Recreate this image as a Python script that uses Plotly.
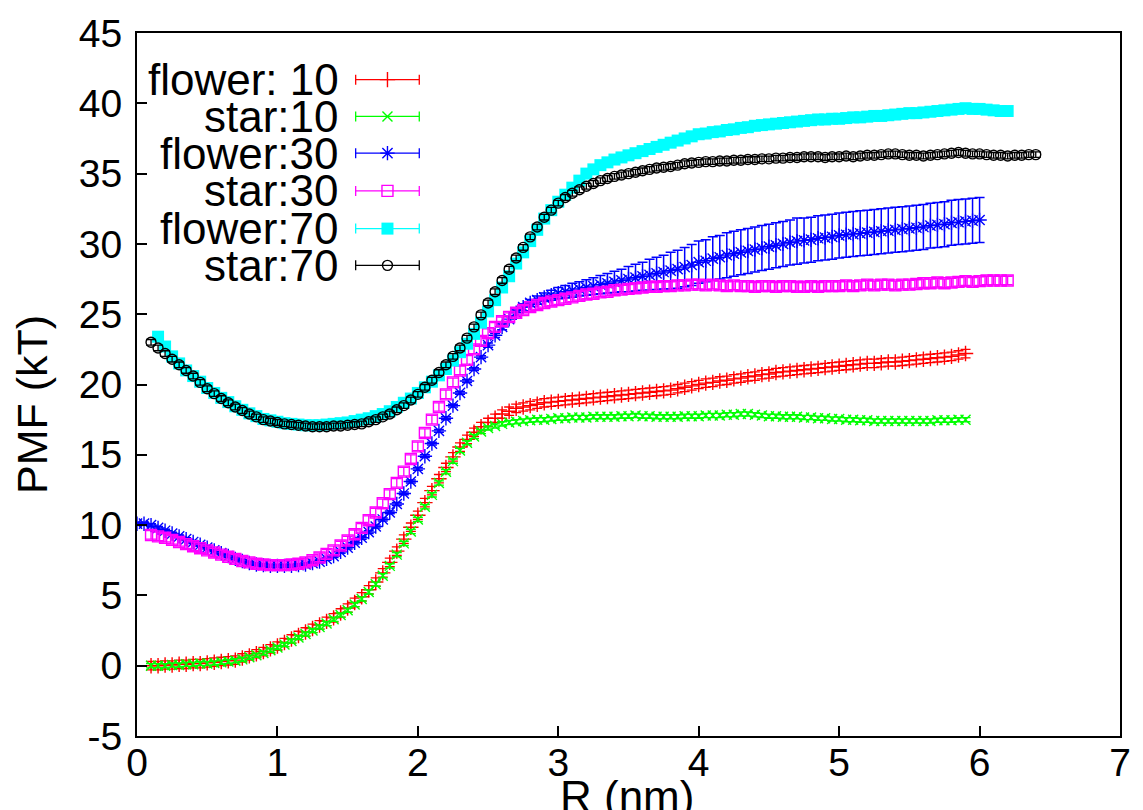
import numpy as np
import plotly.graph_objects as go

R_STEP = 0.05

# ---- series values (PMF in kT), sampled every R_STEP nm from the given start ----
FLOWER10_START = 0.10
FLOWER10 = [0.0, 0.0, 0.05, 0.05, 0.1, 0.1, 0.15, 0.15, 0.2, 0.25,
            0.3, 0.35, 0.4, 0.55, 0.7, 0.85, 1.0, 1.2, 1.4, 1.65,
            1.9, 2.15, 2.4, 2.65, 2.9, 3.15, 3.4, 3.75, 4.1, 4.5,
            4.9, 5.4, 5.95, 6.6, 7.35, 8.15, 9.0, 9.85, 10.7, 11.6,
            12.45, 13.3, 14.1, 14.85, 15.55, 16.1, 16.6, 17.0, 17.3, 17.6,
            17.9, 18.1, 18.3, 18.4, 18.5, 18.6, 18.7, 18.75, 18.8, 18.85,
            18.9, 18.95, 19.0, 19.05, 19.1, 19.15, 19.2, 19.25, 19.3, 19.35,
            19.4, 19.45, 19.5, 19.55, 19.6, 19.7, 19.8, 19.9, 20.0, 20.1,
            20.15, 20.25, 20.3, 20.4, 20.45, 20.55, 20.6, 20.7, 20.75, 20.85,
            20.9, 20.95, 21.0, 21.05, 21.1, 21.15, 21.2, 21.25, 21.3, 21.35,
            21.4, 21.45, 21.5, 21.5, 21.55, 21.6, 21.6, 21.65, 21.7, 21.75,
            21.8, 21.85, 21.9, 21.95, 22.0, 22.1, 22.2]

STAR10_START = 0.10
STAR10 = [0.0, 0.0, 0.0, 0.05, 0.05, 0.1, 0.1, 0.15, 0.15, 0.2,
          0.25, 0.3, 0.35, 0.45, 0.6, 0.75, 0.9, 1.1, 1.3, 1.5,
          1.75, 2.0, 2.25, 2.5, 2.75, 3.0, 3.3, 3.6, 3.95, 4.35,
          4.75, 5.25, 5.8, 6.4, 7.1, 7.9, 8.7, 9.55, 10.4, 11.3,
          12.15, 13.0, 13.8, 14.55, 15.3, 15.85, 16.3, 16.65, 16.9, 17.05,
          17.2, 17.3, 17.35, 17.4, 17.45, 17.5, 17.5, 17.55, 17.6, 17.6,
          17.65, 17.65, 17.65, 17.7, 17.7, 17.7, 17.7, 17.75, 17.75, 17.8,
          17.75, 17.75, 17.7, 17.7, 17.7, 17.7, 17.75, 17.75, 17.75, 17.8,
          17.8, 17.8, 17.85, 17.85, 17.9, 17.9, 17.85, 17.8, 17.75, 17.75,
          17.7, 17.7, 17.7, 17.65, 17.65, 17.6, 17.6, 17.55, 17.55, 17.5,
          17.5, 17.45, 17.45, 17.4, 17.4, 17.4, 17.4, 17.4, 17.4, 17.4,
          17.4, 17.4, 17.45, 17.45, 17.45, 17.5, 17.5]

FLOWER30_START = 0.00
FLOWER30 = [10.1, 10.1, 10.0, 9.8, 9.6, 9.4, 9.2, 9.0, 8.8, 8.6,
            8.4, 8.2, 8.0, 7.8, 7.6, 7.45, 7.3, 7.2, 7.15, 7.1,
            7.1, 7.1, 7.1, 7.15, 7.2, 7.3, 7.4, 7.6, 7.8, 8.1,
            8.4, 8.75, 9.1, 9.5, 9.9, 10.4, 10.9, 11.5, 12.25, 13.1,
            14.0, 14.9, 15.8, 16.7, 17.6, 18.5, 19.4, 20.25, 21.1, 21.95,
            22.8, 23.5, 24.1, 24.65, 25.1, 25.5, 25.8, 26.0, 26.2, 26.35,
            26.5, 26.6, 26.7, 26.8, 26.9, 27.0, 27.1, 27.2, 27.3, 27.4,
            27.5, 27.6, 27.7, 27.8, 27.9, 28.0, 28.1, 28.2, 28.35, 28.5,
            28.7, 28.8, 28.95, 29.05, 29.2, 29.3, 29.4, 29.5, 29.6, 29.7,
            29.8, 29.9, 30.0, 30.1, 30.2, 30.25, 30.3, 30.4, 30.45, 30.5,
            30.6, 30.65, 30.7, 30.75, 30.8, 30.85, 30.9, 30.95, 31.0, 31.05,
            31.1, 31.15, 31.2, 31.3, 31.35, 31.4, 31.5, 31.55, 31.6, 31.65,
            31.7]
FLOWER30_ERR = [0.1, 0.1, 0.1, 0.1, 0.1, 0.1, 0.1, 0.1, 0.1, 0.1,
                0.1, 0.1, 0.1, 0.1, 0.1, 0.1, 0.1, 0.1, 0.1, 0.1,
                0.1, 0.1, 0.1, 0.1, 0.1, 0.1, 0.1, 0.1, 0.1, 0.1,
                0.1, 0.1, 0.1, 0.1, 0.1, 0.1, 0.1, 0.1, 0.1, 0.1,
                0.1, 0.1, 0.1, 0.1, 0.1, 0.1, 0.1, 0.1, 0.1, 0.1,
                0.15, 0.15, 0.2, 0.2, 0.2, 0.25, 0.25, 0.3, 0.3, 0.35,
                0.4, 0.45, 0.5, 0.5, 0.55, 0.6, 0.65, 0.7, 0.75, 0.8,
                0.9, 0.95, 1.0, 1.1, 1.15, 1.2, 1.3, 1.35, 1.4, 1.45,
                1.5, 1.5, 1.55, 1.55, 1.6, 1.6, 1.6, 1.6, 1.6, 1.6,
                1.6, 1.6, 1.6, 1.6, 1.65, 1.6, 1.6, 1.6, 1.6, 1.6,
                1.6, 1.6, 1.6, 1.6, 1.6, 1.6, 1.6, 1.6, 1.6, 1.6,
                1.6, 1.6, 1.6, 1.6, 1.6, 1.6, 1.6, 1.6, 1.6, 1.6,
                1.6]

STAR30_START = 0.10
STAR30 = [9.3, 9.2, 9.1, 8.95, 8.8, 8.65, 8.5, 8.35, 8.2, 8.05,
          7.9, 7.75, 7.6, 7.45, 7.35, 7.25, 7.2, 7.15, 7.15, 7.15,
          7.2, 7.25, 7.35, 7.5, 7.7, 7.95, 8.2, 8.55, 8.9, 9.35,
          9.8, 10.35, 10.9, 11.55, 12.2, 13.0, 13.8, 14.7, 15.6, 16.55,
          17.5, 18.4, 19.3, 20.15, 21.0, 21.75, 22.5, 23.1, 23.65, 24.1,
          24.5, 24.8, 25.1, 25.3, 25.5, 25.65, 25.8, 25.9, 26.0, 26.1,
          26.2, 26.3, 26.4, 26.45, 26.55, 26.6, 26.7, 26.75, 26.8, 26.85,
          26.9, 26.95, 26.95, 27.0, 27.0, 27.05, 27.05, 27.1, 27.1, 27.05,
          27.1, 27.05, 27.0, 27.05, 27.0, 27.0, 26.95, 27.0, 27.0, 26.95,
          27.0, 27.0, 26.95, 26.95, 27.0, 26.95, 27.0, 27.0, 27.0, 27.05,
          27.0, 27.05, 27.1, 27.05, 27.1, 27.1, 27.05, 27.1, 27.1, 27.15,
          27.2, 27.2, 27.25, 27.2, 27.25, 27.3, 27.35, 27.3, 27.35, 27.4,
          27.4, 27.4, 27.4]

FLOWER70_START = 0.15
FLOWER70 = [23.4, 22.7, 22.0, 21.5, 21.0, 20.6, 20.2, 19.75, 19.4, 19.05,
            18.75, 18.45, 18.2, 17.95, 17.75, 17.55, 17.45, 17.35, 17.25, 17.2,
            17.15, 17.1, 17.1, 17.1, 17.15, 17.2, 17.25, 17.3, 17.4, 17.5,
            17.6, 17.75, 17.9, 18.1, 18.4, 18.7, 19.0, 19.4, 19.8, 20.2,
            20.65, 21.1, 21.7, 22.3, 22.9, 23.6, 24.4, 25.2, 26.0, 26.9,
            27.7, 28.6, 29.4, 30.2, 31.0, 31.8, 32.4, 33.0, 33.5, 34.0,
            34.5, 35.0, 35.3, 35.6, 35.8, 36.0, 36.15, 36.3, 36.45, 36.6,
            36.75, 36.9, 37.05, 37.2, 37.35, 37.5, 37.65, 37.8, 37.85, 37.95,
            38.0, 38.1, 38.15, 38.25, 38.3, 38.4, 38.45, 38.5, 38.55, 38.6,
            38.65, 38.7, 38.75, 38.8, 38.85, 38.85, 38.9, 38.9, 38.95, 39.0,
            39.0, 39.05, 39.1, 39.1, 39.15, 39.2, 39.25, 39.3, 39.3, 39.35,
            39.4, 39.45, 39.5, 39.55, 39.6, 39.65, 39.6, 39.6, 39.55, 39.5,
            39.45, 39.45]

STAR70_START = 0.10
STAR70 = [23.0, 22.6, 22.2, 21.8, 21.4, 21.0, 20.6, 20.15, 19.7, 19.35,
          19.0, 18.7, 18.4, 18.15, 17.9, 17.7, 17.5, 17.4, 17.3, 17.2,
          17.15, 17.1, 17.05, 17.0, 17.0, 17.0, 17.05, 17.05, 17.1, 17.15,
          17.2, 17.35, 17.5, 17.7, 17.9, 18.2, 18.5, 18.9, 19.3, 19.8,
          20.3, 20.85, 21.4, 22.0, 22.6, 23.3, 24.1, 24.95, 25.8, 26.6,
          27.4, 28.2, 29.0, 29.75, 30.5, 31.2, 31.9, 32.4, 32.9, 33.3,
          33.6, 33.85, 34.1, 34.3, 34.5, 34.65, 34.8, 34.9, 35.0, 35.1,
          35.2, 35.3, 35.4, 35.45, 35.5, 35.6, 35.7, 35.75, 35.8, 35.85,
          35.85, 35.9, 35.9, 35.95, 35.95, 36.0, 36.0, 36.05, 36.05, 36.1,
          36.1, 36.15, 36.15, 36.2, 36.2, 36.2, 36.15, 36.2, 36.2, 36.25,
          36.2, 36.25, 36.3, 36.3, 36.35, 36.4, 36.4, 36.35, 36.3, 36.3,
          36.25, 36.3, 36.35, 36.4, 36.45, 36.5, 36.45, 36.4, 36.4, 36.35,
          36.3, 36.3, 36.25, 36.3, 36.3, 36.35, 36.35]

# typical error-bar half heights (kT)
ERR_FLOWER10 = 0.3
ERR_STAR10 = 0.15
ERR_STAR30 = 0.3
ERR_FLOWER70 = 0.25
ERR_STAR70 = 0.2

LABELS = ["flower: 10", "star:10", "flower:30", "star:30", "flower:70", "star:70"]
COLORS = ["#ff0000", "#00ff00", "#0000ff", "#ff00ff", "#00ffff", "#000000"]

X_TICKS = [0, 1, 2, 3, 4, 5, 6, 7]
Y_TICKS = [-5, 0, 5, 10, 15, 20, 25, 30, 35, 40, 45]
Y_TICKTEXT = ["-5", "0", "5", "10", "15", "20", "25", "30", "35", "40", "45"]


def grid(start, n):
    return np.round(start + R_STEP * np.arange(n), 3)


series = [
    (FLOWER10_START, FLOWER10, ERR_FLOWER10, dict(symbol="cross-thin", size=11, line=dict(width=1.4, color=COLORS[0]), color=COLORS[0])),
    (STAR10_START, STAR10, ERR_STAR10, dict(symbol="x-thin", size=10, line=dict(width=1.4, color=COLORS[1]), color=COLORS[1])),
    (FLOWER30_START, FLOWER30, FLOWER30_ERR, dict(symbol="asterisk-open", size=12, line=dict(width=1.4, color=COLORS[2]), color=COLORS[2])),
    (STAR30_START, STAR30, ERR_STAR30, dict(symbol="square-open", size=11, line=dict(width=1.4, color=COLORS[3]), color=COLORS[3])),
    (FLOWER70_START, FLOWER70, ERR_FLOWER70, dict(symbol="square", size=12, line=dict(width=0), color=COLORS[4])),
    (STAR70_START, STAR70, ERR_STAR70, dict(symbol="circle-open", size=10, line=dict(width=1.4, color=COLORS[5]), color=COLORS[5])),
]

fig = go.Figure()
for (start, vals, err, marker), label, color in zip(series, LABELS, COLORS):
    x = grid(start, len(vals))
    if isinstance(err, list):
        ey = dict(type="data", array=err, visible=True, color=color, thickness=1.5, width=5)
    else:
        ey = dict(type="constant", value=err, visible=True, color=color, thickness=1.3, width=5)
    fig.add_trace(go.Scatter(x=x, y=vals, mode="markers", name=label, marker=marker,
                             error_y=ey, showlegend=False, hoverinfo="skip"))

# ---- custom key (text right-aligned, sample on the right), gnuplot style ----
def px_x(p):
    return (p - 137) / 989.0


def px_y(p):
    return (736 - p) / 708.0


KEY_ROWS_PX = [75, 112, 149, 187, 225, 262]
KEY_TEXT_RIGHT = 342
KEY_SAMPLE_L, KEY_SAMPLE_R = 357, 421
annotations = []
for i, ((start, vals, err, marker), label, color) in enumerate(zip(series, LABELS, COLORS)):
    yk = px_y(KEY_ROWS_PX[i])
    annotations.append(dict(x=px_x(KEY_TEXT_RIGHT), y=yk, xref="paper", yref="paper", text=label,
                            showarrow=False, xanchor="right", yanchor="middle",
                            font=dict(family="Liberation Sans", size=44, color="black")))
    xm = (px_x(KEY_SAMPLE_L) + px_x(KEY_SAMPLE_R)) / 2
    half = (px_x(KEY_SAMPLE_R) - px_x(KEY_SAMPLE_L)) / 2
    fig.add_trace(go.Scatter(x=[xm], y=[yk], xaxis="x2", yaxis="y2", mode="markers", marker=marker,
                             error_x=dict(type="constant", value=half, color=color, thickness=1.3, width=5),
                             showlegend=False, hoverinfo="skip"))

annotations.append(dict(x=px_x(32), y=px_y(402), xref="paper", yref="paper", text="PMF (kT)",
                        textangle=-90, showarrow=False, xanchor="center", yanchor="middle",
                        font=dict(family="Liberation Sans", size=43, color="black")))
annotations.append(dict(x=px_x(630), y=px_y(797), xref="paper", yref="paper", text="R (nm)",
                        showarrow=False, xanchor="center", yanchor="middle",
                        font=dict(family="Liberation Sans", size=44, color="black")))

axis_common = dict(showline=True, linewidth=2, linecolor="black", mirror=True,
                   ticks="inside", ticklen=10, tickwidth=1.5, tickcolor="black",
                   showgrid=False, zeroline=False,
                   tickfont=dict(family="Liberation Sans", size=39, color="black"))

fig.update_layout(
    width=1143, height=810,
    margin=dict(l=137, r=17, t=28, b=74),
    paper_bgcolor="white", plot_bgcolor="white",
    xaxis=dict(range=[0, 7], tickvals=X_TICKS, ticklabelstandoff=-9, **axis_common),
    yaxis=dict(range=[-5, 45], tickvals=Y_TICKS, ticktext=Y_TICKTEXT, ticklabelstandoff=5, **axis_common),
    xaxis2=dict(overlaying="x", range=[0, 1], visible=False),
    yaxis2=dict(overlaying="y", range=[0, 1], visible=False),
    annotations=annotations,
    showlegend=False,
)

fig.write_html("out.html")
